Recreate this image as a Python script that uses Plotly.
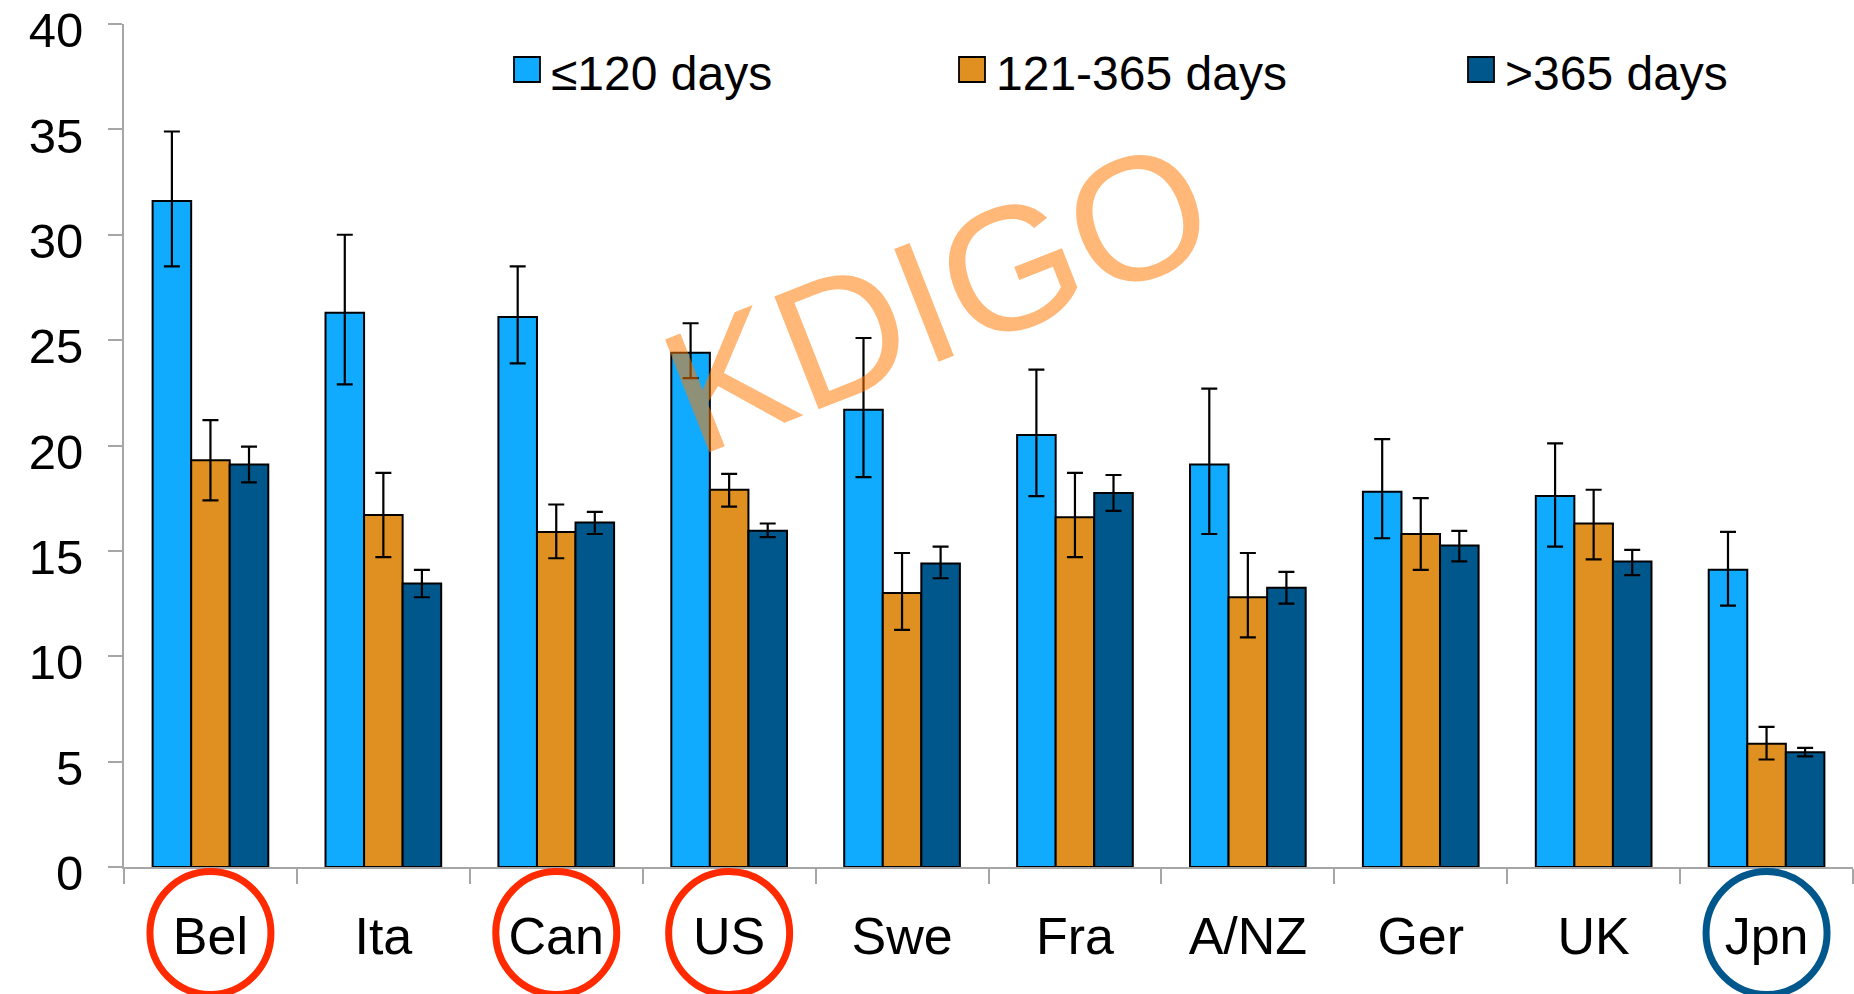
import plotly.graph_objects as go

countries = ["Bel", "Ita", "Can", "US", "Swe", "Fra", "A/NZ", "Ger", "UK", "Jpn"]
series_names = ["≤120 days", "121-365 days", ">365 days"]

short_val = [31.6, 26.3, 26.1, 24.4, 21.7, 20.5, 19.1, 17.8, 17.6, 14.1]
short_hi = [34.9, 30.0, 28.5, 25.8, 25.1, 23.6, 22.7, 20.3, 20.1, 15.9]
short_lo = [28.5, 22.9, 23.9, 23.2, 18.5, 17.6, 15.8, 15.6, 15.2, 12.4]

mid_val = [19.3, 16.7, 15.9, 17.9, 13.0, 16.6, 12.8, 15.8, 16.3, 5.85]
mid_hi = [21.2, 18.7, 17.2, 18.65, 14.9, 18.7, 14.9, 17.5, 17.9, 6.65]
mid_lo = [17.4, 14.7, 14.65, 17.1, 11.25, 14.7, 10.9, 14.1, 14.6, 5.1]

long_val = [19.1, 13.45, 16.35, 15.95, 14.4, 17.75, 13.25, 15.25, 14.5, 5.45]
long_hi = [19.95, 14.1, 16.85, 16.3, 15.2, 18.6, 14.0, 15.95, 15.05, 5.65]
long_lo = [18.25, 12.8, 15.8, 15.65, 13.7, 16.9, 12.5, 14.5, 13.85, 5.25]

colors = ["#10AAFF", "#E09020", "#00578C"]
circled = {"Bel": "#FF2A00", "Can": "#FF2A00", "US": "#FF2A00", "Jpn": "#00578C"}

FONT = "Liberation Sans, Arial, sans-serif"

W, H = 1854, 994
ML, MR, MT, MB = 124, 1, 24, 127
PW, PH = W - ML - MR, H - MT - MB


def px_x(px):
    return (px - ML) / PW


def px_y(py):
    return 1 - (py - MT) / PH


fig = go.Figure()
data = [(short_val, short_hi, short_lo), (mid_val, mid_hi, mid_lo), (long_val, long_hi, long_lo)]
for i, (vals, his, los) in enumerate(data):
    fig.add_trace(go.Bar(
        x=countries, y=vals, name=series_names[i],
        marker=dict(color=colors[i], line=dict(color="black", width=2)),
        error_y=dict(type="data", symmetric=False,
                     array=[h - v for h, v in zip(his, vals)],
                     arrayminus=[v - l for l, v in zip(los, vals)],
                     color="black", thickness=2.2, width=8),
        showlegend=False,
    ))

fig.update_layout(
    width=W, height=H,
    margin=dict(l=ML, r=MR, t=MT, b=MB, autoexpand=False),
    paper_bgcolor="white", plot_bgcolor="white",
    barmode="group", bargap=0.331, bargroupgap=0,
    font=dict(family=FONT, color="black"),
    showlegend=False,
    xaxis=dict(
        type="category", showline=True, linecolor="#A6A6A6", linewidth=2,
        ticks="outside", tickson="boundaries", ticklen=15, tickwidth=2, tickcolor="#A6A6A6",
        tickfont=dict(family=FONT, size=52, color="black"),
        showgrid=False, zeroline=False, ticklabelstandoff=23, automargin=False,
    ),
    yaxis=dict(
        range=[0, 40], dtick=5, tick0=0, showline=True, linecolor="#A6A6A6", linewidth=2,
        ticks="outside", ticklen=14, tickwidth=2, tickcolor="#A6A6A6",
        tickfont=dict(family=FONT, size=49, color="black"),
        showgrid=False, zeroline=False, ticklabelstandoff=15, ticklabelshift=6,
        ticklabeloverflow="allow", automargin=False,
    ),
)

# legend (swatch + label per series)
legend_text_x = [551, 996, 1505]
for name, col, tx in zip(series_names, colors, legend_text_x):
    fig.add_shape(type="rect", xref="paper", yref="paper",
                  x0=px_x(tx - 37), x1=px_x(tx - 11), y0=px_y(82), y1=px_y(57),
                  fillcolor=col, line=dict(color="black", width=1.8), layer="above")
    fig.add_annotation(text=name, xref="paper", yref="paper", x=px_x(tx - 2), y=px_y(73),
                       xanchor="left", yanchor="middle", showarrow=False,
                       font=dict(family=FONT, size=48, color="black"))

# circles around selected country labels
for c, col in circled.items():
    fig.add_shape(type="circle", xref="x", yref="paper",
                  xsizemode="pixel", ysizemode="pixel",
                  xanchor=c, yanchor=0,
                  x0=-60.5, x1=60.5, y0=-127.5, y1=-4.5,
                  line=dict(color=col, width=7), fillcolor="rgba(0,0,0,0)", layer="above")

# watermark
fig.add_annotation(text="KDIGO", xref="paper", yref="paper", x=px_x(937), y=px_y(297),
                   xanchor="center", yanchor="middle", showarrow=False, textangle=-21.5,
                   font=dict(family=FONT, size=176, color="rgba(255,121,0,0.53)"))

fig.write_html("out.html", config={"displayModeBar": False},
               post_script="document.body.style.margin='0';")
